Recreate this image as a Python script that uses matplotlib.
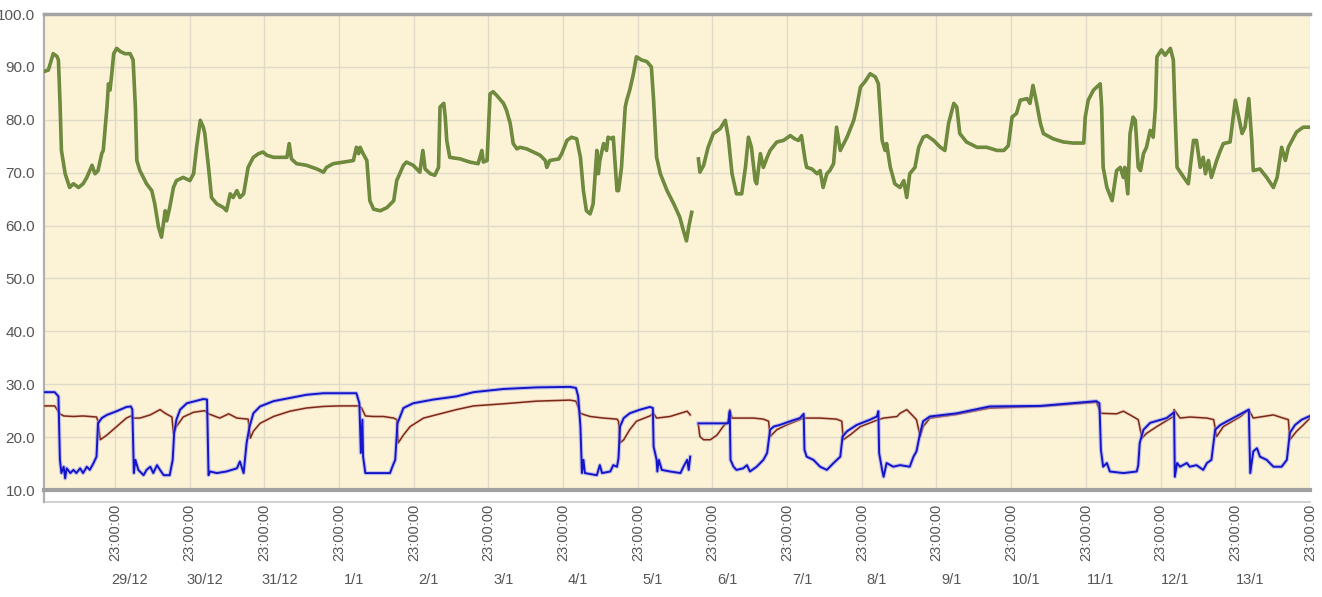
import numpy as np
import matplotlib
matplotlib.use("Agg")
import matplotlib.pyplot as plt
import matplotlib.patheffects as pe
from matplotlib.lines import Line2D
import matplotlib.transforms as mtransforms

plt.rcParams['font.family'] = ['Liberation Sans', 'DejaVu Sans']

# time axis: days since 28/12 00:00
day_labels = ["29/12", "30/12", "31/12", "1/1", "2/1", "3/1", "4/1", "5/1",
              "6/1", "7/1", "8/1", "9/1", "10/1", "11/1", "12/1", "13/1"]
hour_label = "23:00:00"
nan = float("nan")

# green series (time in days, value)
green = [
    (0.00, 89.1), (0.065, 89.4), (0.13, 92.5), (0.18, 92.0), (0.20, 91.3), (0.22, 83.7),
    (0.24, 74.2), (0.29, 69.8), (0.35, 67.2), (0.40, 67.9), (0.47, 67.2), (0.53, 67.9),
    (0.58, 69.1), (0.62, 70.4), (0.65, 71.4), (0.69, 69.8), (0.73, 70.4), (0.78, 73.6),
    (0.80, 74.2), (0.85, 82.4), (0.87, 86.8), (0.89, 85.6), (0.91, 88.1), (0.94, 92.5),
    (0.98, 93.5), (1.03, 92.9), (1.09, 92.5), (1.16, 92.5), (1.20, 91.3), (1.23, 82.4),
    (1.25, 72.3), (1.29, 70.4), (1.38, 67.9), (1.45, 66.6), (1.49, 64.1), (1.54, 59.7),
    (1.58, 57.8), (1.63, 62.8), (1.65, 60.9), (1.69, 63.4), (1.74, 67.2), (1.78, 68.5),
    (1.87, 69.1), (1.96, 68.5), (2.01, 69.8), (2.05, 74.8), (2.10, 79.9), (2.14, 78.6),
    (2.16, 77.4), (2.21, 71.0), (2.25, 65.3), (2.32, 64.1), (2.41, 63.4), (2.45, 62.8),
    (2.50, 66.0), (2.54, 65.3), (2.59, 66.6), (2.63, 65.3), (2.68, 66.0), (2.74, 71.0),
    (2.81, 72.9), (2.88, 73.6), (2.94, 73.9), (2.99, 73.3), (3.08, 72.9), (3.17, 72.9),
    (3.26, 72.9), (3.29, 75.5), (3.32, 72.6), (3.39, 71.7), (3.52, 71.4), (3.66, 70.7),
    (3.75, 70.1), (3.79, 71.0), (3.88, 71.7), (4.02, 72.0), (4.15, 72.3), (4.19, 74.8),
    (4.22, 73.6), (4.24, 74.8), (4.28, 73.6), (4.33, 72.3), (4.35, 68.5), (4.37, 64.7),
    (4.42, 63.1), (4.51, 62.8), (4.60, 63.4), (4.69, 64.7), (4.73, 68.5), (4.77, 69.8),
    (4.82, 71.4), (4.86, 72.0), (4.95, 71.4), (5.04, 70.1), (5.08, 74.2), (5.11, 70.7),
    (5.18, 69.8), (5.24, 69.5), (5.29, 71.0), (5.31, 82.4), (5.36, 83.1), (5.38, 80.5),
    (5.40, 76.1), (5.44, 72.9), (5.58, 72.6), (5.71, 72.0), (5.82, 71.7), (5.87, 74.2),
    (5.89, 72.0), (5.94, 72.3), (5.98, 84.9), (6.02, 85.3), (6.07, 84.6), (6.16, 83.1),
    (6.20, 81.8), (6.25, 79.3), (6.29, 75.5), (6.34, 74.5), (6.38, 74.8), (6.47, 74.5),
    (6.56, 73.9), (6.65, 73.3), (6.72, 72.3), (6.74, 71.0), (6.78, 72.3), (6.90, 72.6),
    (6.94, 73.6), (7.01, 76.1), (7.07, 76.7), (7.14, 76.4), (7.19, 72.9), (7.23, 66.6),
    (7.27, 62.8), (7.32, 62.2), (7.36, 64.1), (7.41, 74.2), (7.43, 69.8), (7.45, 72.3),
    (7.50, 75.5), (7.54, 74.2), (7.56, 76.7), (7.61, 76.4), (7.63, 76.7), (7.68, 66.6),
    (7.70, 66.6), (7.74, 71.0), (7.79, 82.4), (7.81, 83.7), (7.85, 85.6), (7.90, 88.7),
    (7.94, 91.9), (8.01, 91.3), (8.08, 91.0), (8.14, 90.0), (8.17, 83.7), (8.21, 72.9),
    (8.26, 69.8), (8.35, 66.6), (8.44, 64.1), (8.52, 61.6), (8.57, 59.0), (8.61, 57.1),
    (8.64, 59.7), (8.68, 62.5), (8.72, nan),
    (8.77, 72.6), (8.79, 70.1), (8.84, 71.4), (8.90, 74.8), (8.97, 77.4), (9.06, 78.3),
    (9.13, 79.9), (9.17, 76.7), (9.22, 69.8), (9.28, 66.0), (9.35, 66.0), (9.40, 71.0),
    (9.44, 76.7), (9.48, 74.8), (9.53, 68.5), (9.55, 67.9), (9.60, 73.6), (9.64, 71.0),
    (9.69, 72.9), (9.73, 74.2), (9.82, 75.8), (9.91, 76.1), (10.00, 77.0), (10.06, 76.4),
    (10.11, 76.1), (10.15, 77.0), (10.20, 72.3), (10.22, 71.0), (10.29, 70.7), (10.36, 69.8),
    (10.40, 70.4), (10.44, 67.2), (10.49, 69.8), (10.53, 70.4), (10.58, 71.7), (10.62, 78.6),
    (10.67, 74.2), (10.76, 76.7), (10.85, 79.9), (10.89, 82.4), (10.94, 86.2), (11.00, 87.2),
    (11.07, 88.7), (11.14, 88.1), (11.18, 86.8), (11.23, 76.1), (11.27, 74.2), (11.29, 75.5),
    (11.34, 71.0), (11.40, 67.9), (11.47, 67.2), (11.52, 68.5), (11.56, 65.3), (11.60, 69.8),
    (11.67, 71.0), (11.72, 74.8), (11.78, 76.7), (11.83, 77.0), (11.92, 76.1), (12.01, 74.8),
    (12.07, 74.2), (12.12, 79.3), (12.19, 83.1), (12.23, 82.4), (12.27, 77.4), (12.36, 75.8),
    (12.50, 74.8), (12.63, 74.8), (12.77, 74.2), (12.86, 74.2), (12.92, 75.1), (12.97, 80.5),
    (13.03, 81.2), (13.08, 83.7), (13.17, 84.0), (13.21, 83.1), (13.25, 86.5), (13.30, 83.1),
    (13.35, 79.3), (13.39, 77.4), (13.52, 76.4), (13.66, 75.8), (13.79, 75.6), (13.93, 75.6),
    (13.95, 80.5), (13.99, 83.7), (14.06, 85.6), (14.15, 86.8), (14.17, 82.4), (14.19, 71.0),
    (14.24, 67.2), (14.31, 64.7), (14.37, 70.4), (14.42, 71.0), (14.46, 69.1), (14.48, 71.0),
    (14.52, 66.0), (14.55, 77.4), (14.59, 80.5), (14.62, 79.9), (14.66, 71.0), (14.69, 70.4),
    (14.73, 73.6), (14.77, 74.8), (14.82, 78.0), (14.86, 76.7), (14.89, 82.4), (14.91, 91.9),
    (14.97, 93.2), (15.02, 92.2), (15.09, 93.5), (15.13, 91.3), (15.15, 82.4), (15.18, 71.0),
    (15.27, 69.1), (15.33, 67.9), (15.40, 76.1), (15.44, 76.1), (15.49, 71.0), (15.53, 72.9),
    (15.56, 69.8), (15.60, 72.3), (15.64, 69.1), (15.71, 72.3), (15.76, 74.2), (15.80, 75.5),
    (15.89, 75.8), (15.96, 83.7), (16.05, 77.4), (16.09, 78.6), (16.14, 84.0), (16.18, 76.1),
    (16.20, 70.4), (16.29, 70.7), (16.38, 69.1), (16.47, 67.2), (16.52, 69.1), (16.58, 74.8),
    (16.63, 72.3), (16.67, 74.8), (16.72, 76.1), (16.78, 77.7), (16.87, 78.6), (16.96, 78.6),
]

# dark red series
red = [
    (0.00, 25.9), (0.15, 25.9), (0.22, 24.4), (0.27, 24.0), (0.40, 23.9), (0.53, 24.0),
    (0.62, 23.9), (0.71, 23.8), (0.73, 23.0), (0.76, 19.5), (0.85, 20.4), (0.98, 22.0),
    (1.11, 23.6), (1.17, 24.0), (1.20, 23.6), (1.29, 23.6), (1.43, 24.2), (1.56, 25.2),
    (1.63, 24.5), (1.72, 23.8), (1.74, 20.7), (1.78, 22.0), (1.87, 23.8), (2.01, 24.7),
    (2.16, 25.0), (2.21, 24.4), (2.36, 23.6), (2.48, 24.4), (2.59, 23.6), (2.74, 23.4),
    (2.77, 19.8), (2.81, 21.1), (2.90, 22.6), (3.08, 23.9), (3.30, 24.9), (3.52, 25.5),
    (3.75, 25.8), (3.97, 25.9), (4.22, 25.9), (4.26, 25.5), (4.31, 24.0), (4.42, 23.9),
    (4.55, 23.9), (4.69, 23.6), (4.73, 23.3), (4.75, 18.9), (4.82, 20.4), (4.91, 22.0),
    (5.09, 23.6), (5.31, 24.4), (5.53, 25.2), (5.76, 25.9), (6.16, 26.3), (6.60, 26.8),
    (7.05, 27.0), (7.13, 26.8), (7.19, 24.5), (7.25, 24.2), (7.32, 23.9), (7.50, 23.6),
    (7.68, 23.4), (7.70, 23.0), (7.72, 18.9), (7.77, 19.5), (7.85, 21.4), (7.94, 23.0),
    (8.12, 24.0), (8.17, 24.5), (8.21, 23.6), (8.39, 23.9), (8.53, 24.5), (8.62, 24.9),
    (8.66, 24.2), (8.72, nan),
    (8.77, 22.3), (8.79, 20.1), (8.84, 19.5), (8.93, 19.5), (9.02, 20.4), (9.10, 22.0),
    (9.17, 23.0), (9.19, 25.2), (9.22, 23.6), (9.28, 23.6), (9.51, 23.6), (9.64, 23.4),
    (9.71, 23.0), (9.73, 20.1), (9.82, 21.4), (9.95, 22.3), (10.18, 23.6), (10.40, 23.6),
    (10.62, 23.4), (10.69, 23.0), (10.71, 19.5), (10.80, 20.4), (10.94, 22.0), (11.07, 22.7),
    (11.18, 23.3), (11.25, 23.6), (11.43, 23.9), (11.47, 24.5), (11.56, 25.2), (11.63, 24.2),
    (11.69, 23.3), (11.74, 20.1), (11.78, 22.0), (11.87, 23.6), (12.23, 24.3), (12.67, 25.5),
    (13.35, 25.8), (14.10, 26.6), (14.16, 24.5), (14.37, 24.4), (14.46, 24.9), (14.55, 24.2),
    (14.66, 23.3), (14.71, 19.8), (14.77, 20.7), (14.91, 22.0), (15.13, 23.9), (15.14, 25.2),
    (15.22, 23.6), (15.35, 23.8), (15.58, 23.6), (15.67, 23.3), (15.71, 20.1), (15.80, 22.0),
    (16.03, 23.9), (16.14, 25.2), (16.20, 23.6), (16.47, 24.2), (16.60, 23.6), (16.67, 23.3),
    (16.69, 19.5), (16.78, 21.1), (16.87, 22.3), (16.96, 23.6),
]

# blue series
blue = [
    (0.00, 28.5), (0.15, 28.5), (0.20, 27.7), (0.22, 15.7), (0.24, 13.2), (0.27, 14.4),
    (0.29, 12.2), (0.31, 14.1), (0.36, 13.2), (0.40, 13.8), (0.44, 13.2), (0.49, 14.1),
    (0.53, 13.2), (0.58, 14.4), (0.62, 13.8), (0.67, 15.1), (0.71, 16.3), (0.73, 22.6),
    (0.78, 23.6), (0.85, 24.2), (0.98, 24.9), (1.11, 25.7), (1.17, 25.8), (1.19, 25.2),
    (1.21, 13.2), (1.23, 15.7), (1.27, 13.8), (1.34, 12.8), (1.38, 13.8), (1.43, 14.4),
    (1.47, 13.2), (1.52, 14.7), (1.56, 13.8), (1.61, 12.8), (1.69, 12.8), (1.73, 15.7),
    (1.75, 20.8), (1.78, 23.3), (1.83, 25.2), (1.92, 26.4), (2.14, 27.2), (2.19, 27.1),
    (2.21, 12.8), (2.23, 13.5), (2.32, 13.2), (2.45, 13.5), (2.59, 14.1), (2.63, 15.4),
    (2.68, 13.2), (2.72, 18.9), (2.76, 22.0), (2.81, 24.5), (2.90, 25.8), (3.08, 26.8),
    (3.30, 27.4), (3.52, 28.0), (3.75, 28.3), (4.19, 28.3), (4.23, 26.4), (4.25, 17.0),
    (4.27, 23.3), (4.28, 16.3), (4.31, 13.2), (4.42, 13.2), (4.64, 13.2), (4.68, 14.7),
    (4.71, 15.7), (4.74, 22.6), (4.82, 25.5), (4.95, 26.4), (5.22, 27.1), (5.53, 27.7),
    (5.76, 28.5), (6.16, 29.1), (6.60, 29.4), (7.05, 29.5), (7.13, 29.3), (7.16, 27.7),
    (7.19, 22.0), (7.21, 13.2), (7.23, 15.7), (7.25, 13.2), (7.41, 12.8), (7.45, 14.7),
    (7.48, 13.2), (7.59, 13.5), (7.63, 14.7), (7.68, 14.4), (7.70, 16.0), (7.72, 22.0),
    (7.77, 23.6), (7.85, 24.5), (7.99, 25.2), (8.12, 25.7), (8.16, 25.5), (8.17, 18.2),
    (8.19, 17.0), (8.21, 15.7), (8.22, 13.5), (8.24, 15.7), (8.28, 13.8), (8.39, 13.5),
    (8.53, 13.2), (8.57, 14.4), (8.62, 15.7), (8.64, 13.8), (8.66, 16.3), (8.72, nan),
    (8.77, 22.6), (8.93, 22.6), (9.17, 22.6), (9.19, 24.9), (9.20, 15.7), (9.24, 14.4),
    (9.28, 13.8), (9.37, 14.1), (9.42, 14.7), (9.46, 13.5), (9.55, 14.4), (9.64, 15.7),
    (9.69, 17.0), (9.73, 21.4), (9.78, 22.0), (9.86, 22.3), (10.00, 23.0), (10.13, 23.6),
    (10.18, 24.4), (10.19, 17.6), (10.22, 16.3), (10.31, 15.7), (10.40, 14.4), (10.49, 13.8),
    (10.58, 15.1), (10.67, 16.3), (10.70, 20.1), (10.76, 21.1), (10.89, 22.3), (11.07, 23.3),
    (11.16, 23.9), (11.18, 24.9), (11.19, 17.0), (11.23, 13.8), (11.25, 12.5), (11.29, 15.1),
    (11.38, 14.4), (11.47, 14.7), (11.60, 14.4), (11.65, 16.3), (11.69, 17.3), (11.74, 20.8),
    (11.78, 23.0), (11.87, 23.9), (12.23, 24.5), (12.67, 25.8), (13.35, 25.9), (14.10, 26.8),
    (14.14, 26.4), (14.16, 17.6), (14.19, 14.4), (14.24, 15.1), (14.28, 13.5), (14.46, 13.2),
    (14.64, 13.5), (14.66, 14.7), (14.68, 18.9), (14.73, 21.4), (14.82, 22.7), (15.04, 23.6),
    (15.14, 24.7), (15.15, 12.5), (15.18, 15.1), (15.22, 14.4), (15.31, 15.1), (15.35, 14.4),
    (15.44, 14.7), (15.53, 13.8), (15.58, 15.1), (15.64, 15.7), (15.69, 21.4), (15.76, 22.3),
    (15.89, 23.3), (16.14, 25.2), (16.16, 13.2), (16.20, 17.3), (16.25, 17.9), (16.29, 16.3),
    (16.38, 15.7), (16.47, 14.4), (16.58, 14.4), (16.65, 15.7), (16.69, 20.8), (16.76, 22.3),
    (16.85, 23.3), (16.96, 24.0),
]

W, H = 1322, 597
fig = plt.figure(figsize=(W / 100, H / 100), dpi=100)
fig.patch.set_facecolor("white")
ax = fig.add_axes([43.5 / W, (H - 490) / H, (1310 - 43.5) / W, (490 - 14) / H])
ax.set_facecolor("#fcf3d7")

gt, gv = zip(*green)
rt, rv = zip(*red)
bt, bv = zip(*blue)

ax.plot(gt, gv, color="#6e8e38", lw=1.4, zorder=3,
        path_effects=[pe.Stroke(linewidth=2.6, foreground="#566f2c", alpha=0.85), pe.Normal()])
ax.plot(rt, rv, color="#7a2a14", lw=1.1, zorder=3,
        path_effects=[pe.Stroke(linewidth=2.4, foreground="#e8b0a8", alpha=0.5), pe.Normal()])
ax.plot(bt, bv, color="#1414c8", lw=1.4, zorder=4,
        path_effects=[pe.Stroke(linewidth=3.0, foreground="#9a9cf0", alpha=0.55), pe.Normal()])

ticks = [23 / 24 + k for k in range(17)]
ax.set_xlim(0, 16.96)
ax.set_ylim(10, 100)
ax.set_yticks(np.arange(10, 101, 10))
ax.set_yticklabels(["%.1f" % v for v in np.arange(10, 101, 10)])
ax.set_xticks(ticks)
ax.set_xticklabels([hour_label] * len(ticks), rotation=90, va="top")
ax.grid(True, color="#e0dbc6", lw=1.0, zorder=0)
ax.set_axisbelow(True)

ax.tick_params(axis="y", length=0, pad=6, labelsize=11, labelcolor="#555555")
ax.tick_params(axis="x", length=0, pad=10, labelsize=10.5, labelcolor="#555555")

ax.spines["right"].set_visible(False)
ax.spines["top"].set_color("#a3a3a3")
ax.spines["top"].set_linewidth(2.5)
ax.spines["left"].set_color("#b0b0b0")
ax.spines["left"].set_linewidth(1.6)
ax.spines["bottom"].set_color("#a0a0a0")
ax.spines["bottom"].set_linewidth(3.0)

# the thin strip under the plot
strip = -12 / 476
ax.add_line(Line2D([0, 1], [strip, strip], transform=ax.transAxes, color="#c8c8c8",
                   lw=1.2, clip_on=False))
ax.add_line(Line2D([0, 0], [strip, 0], transform=ax.transAxes, color="#b0b0b0",
                   lw=1.6, clip_on=False))

trans = mtransforms.blended_transform_factory(ax.transData, ax.transAxes)
for k, lab in enumerate(day_labels):
    ax.text(ticks[k] + 0.2, -0.19, lab, transform=trans, ha="center", va="center",
            fontsize=10.5, color="#555555")

fig.savefig("out.png", dpi=100)
